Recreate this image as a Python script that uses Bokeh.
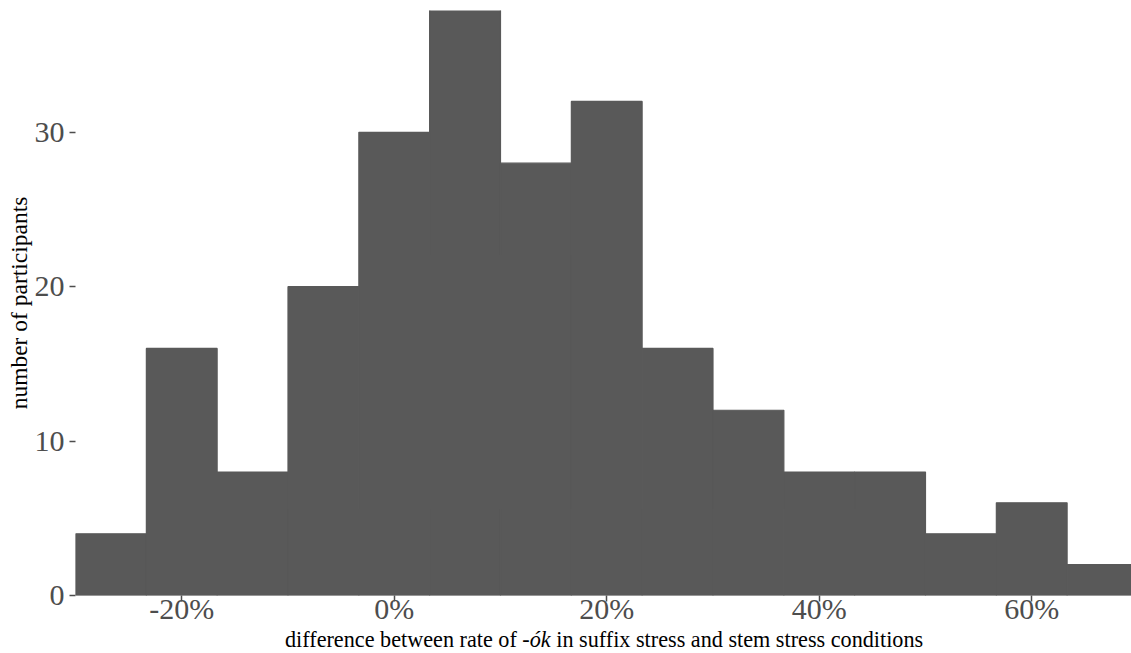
from bokeh.plotting import figure
from bokeh.models import Range1d, FixedTicker, NumeralTickFormatter, ColumnDataSource, Div
from bokeh.layouts import column
from bokeh.embed import file_html
from bokeh.resources import INLINE

# Histogram data (bin edges as fractions, counts of participants)
bin_left = [-0.3000, -0.2333, -0.1667, -0.1000, -0.0333, 0.0333, 0.1000, 0.1667,
            0.2333, 0.3000, 0.3667, 0.4333, 0.5000, 0.5667, 0.6333]
bin_right = [-0.2333, -0.1667, -0.1000, -0.0333, 0.0333, 0.1000, 0.1667, 0.2333,
             0.3000, 0.3667, 0.4333, 0.5000, 0.5667, 0.6333, 0.7000]
counts = [4, 16, 8, 20, 30, 38, 28, 32, 16, 12, 8, 8, 4, 6, 2]

x_ticks = [-0.2, 0.0, 0.2, 0.4, 0.6]
y_ticks = [0, 10, 20, 30]

y_title = "number of participants"
x_title_pre = "difference between rate of"
x_title_it = "-ók"
x_title_post = "in suffix stress and stem stress conditions"

FONT = "Liberation Serif"
TICK_SIZE = "30px"

p = figure(width=1131, height=627, output_backend="svg", toolbar_location=None,
           x_range=Range1d(-0.30, 0.6939), y_range=Range1d(0, 37.89),
           min_border_left=75, min_border_right=0, min_border_top=10, min_border_bottom=31,
           margin=0)
p.outline_line_color = None
p.background_fill_color = "white"
p.border_fill_color = "white"
p.grid.visible = False

src = ColumnDataSource(dict(left=bin_left, right=bin_right, top=counts,
                            bottom=[0] * len(counts)))
p.quad(left="left", right="right", top="top", bottom="bottom", source=src,
       fill_color="#595959", line_color="#595959", line_width=1.2)

for ax in (p.xaxis[0], p.yaxis[0]):
    ax.axis_line_color = None
    ax.minor_tick_line_color = None
    ax.major_tick_in = 0
    ax.major_tick_out = 6
    ax.major_tick_line_color = "#4d4d4d"
    ax.major_tick_line_width = 1.5
    ax.major_label_text_font = FONT
    ax.major_label_text_font_size = TICK_SIZE
    ax.major_label_text_color = "#4d4d4d"

p.xaxis.ticker = FixedTicker(ticks=x_ticks)
p.xaxis.formatter = NumeralTickFormatter(format="0%")
p.xaxis.major_label_standoff = -10

p.yaxis.ticker = FixedTicker(ticks=y_ticks)
p.yaxis.major_label_standoff = 5
p.yaxis.axis_label = y_title
p.yaxis.axis_label_text_font = FONT
p.yaxis.axis_label_text_font_size = "23.5px"
p.yaxis.axis_label_text_font_style = "normal"
p.yaxis.axis_label_text_color = "black"
p.yaxis.axis_label_standoff = 0

# x axis title (with italic fragment) as a text strip below the plot
title_html = f"{x_title_pre} <i>{x_title_it}</i> {x_title_post}"
d = Div(text=title_html, width=1131, height=26, margin=0,
        styles={"font-family": FONT, "font-size": "22.2px", "line-height": "25px",
                "color": "black", "text-indent": "285px", "white-space": "nowrap"})

layout = column(p, d, spacing=0)
open("out.html", "w").write(file_html(layout, INLINE))
